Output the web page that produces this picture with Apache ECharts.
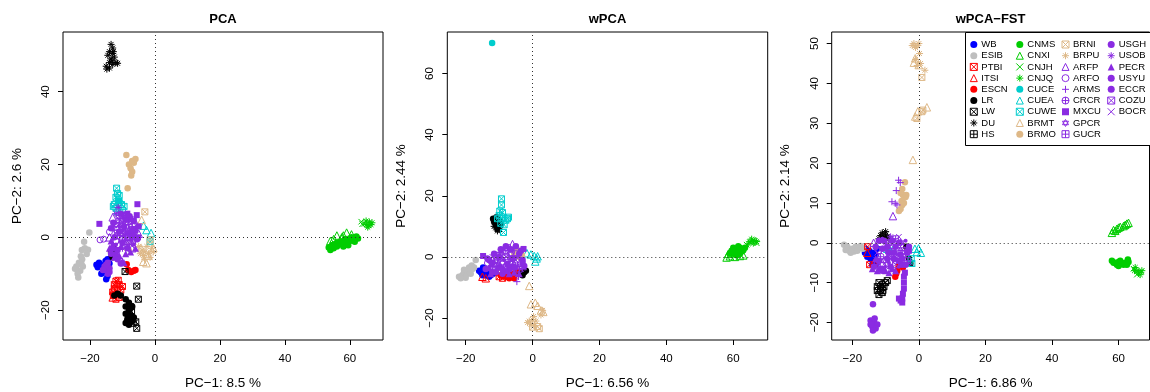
<!DOCTYPE html>
<html><head><meta charset="utf-8">
<script src="https://cdn.jsdelivr.net/npm/echarts@6/dist/echarts.min.js"></script>
<style>html,body{margin:0;padding:0;background:#fff}#c{width:1150px;height:392px}</style>
</head><body><div id="c"></div>
<script>
// ---------- DATA (each group: [PCA points, wPCA points, wPCA-FST points]) ----------
const PANEL_TITLES = ['PCA', 'wPCA', 'wPCA\u2212FST'];
const X_TITLES = ['PC\u22121: 8.5 %', 'PC\u22121: 6.56 %', 'PC\u22121: 6.86 %'];
const Y_TITLES = ['PC\u22122: 2.6 %', 'PC\u22122: 2.44 %', 'PC\u22122: 2.14 %'];
const X_TICKS = [-20, 0, 20, 40, 60];
const Y_TICKS_PCA = [-20, 0, 20, 40];
const Y_TICKS_WPCA = [-20, 0, 20, 40, 60];
const Y_TICKS_FST = [-20, -10, 0, 10, 20, 30, 40, 50];

const GROUPS = ['WB','ESIB','PTBI','ITSI','ESCN','LR','LW','DU','HS',
  'CNMS','CNXI','CNJH','CNJQ','CUCE','CUEA','CUWE','BRMT','BRMO',
  'BRNI','BRPU','ARFP','ARFO','ARMS','CRCR','MXCU','GPCR','GUCR',
  'USGH','USOB','PECR','USYU','ECCR','COZU','BOCR'];

const WB = [
  [[-18,-7.5],[-17.2,-7],[-16.5,-8],[-15.2,-6.5],[-14.6,-6],[-16.5,-10],[-15,-11.5],[-14.6,-10.6],[-17.6,-8.2],[-16,-9.4],[-15.5,-7.5],[-14,-7.2]],
  [[-15.5,-5],[-14.5,-4.5],[-14,-6],[-13,-6.5],[-12.5,-6],[-15,-6],[-13.5,-5.5],[-16,-4.5],[-11.8,-5.5],[-14.8,-3.5]],
  [[-16,-1.5],[-15,-2],[-14,-2.5],[-15.5,-3.5],[-14.5,-4],[-13.5,-4.5],[-13,-5.5],[-12.5,-1.5],[-14,-5.5],[-15,-3],[-16.2,-2.5],[-13,-3]]];
const ESIB = [
  [[-20.2,1.3],[-21.8,-1.2],[-22.5,-3.5],[-20.6,-3.4],[-21,-4.6],[-22.4,-6],[-23.4,-7],[-24.2,-8],[-22.2,-8],[-23,-9.2],[-23.8,-10],[-23.6,-11],[-22.6,-7.4],[-24.6,-8.6],[-21.6,-3],[-22.8,-5.2]],
  [[-22,-6.5],[-21,-6],[-20.5,-5],[-19.5,-5.5],[-19,-4.5],[-18,-4],[-18.5,-5.5],[-20,-6.8],[-21.5,-7],[-17.5,-3.5],[-17,-1],[-19,-3.5],[-20.5,-4.2],[-18.2,-2.8]],
  [[-22.5,-0.5],[-21.5,-1],[-21,-2],[-20,-1.5],[-19,-1],[-18,-1.2],[-17.5,-0.8],[-19.5,-2.2],[-20.5,-2.5],[-18.5,-2],[-22,-1.8],[-16.8,-1.5]]];
const PTBI = [
  [[-12,-12],[-11,-13],[-12.5,-14],[-11.5,-15],[-12.8,-16],[-10.5,-14.5],[-12,-17],[-11,-16.5],[-12.5,-13],[-10,-13.5],[-13,-15],[-11.3,-11.8]],
  [[-9,-7],[-8.5,-6.2],[-10,-6.5]],
  [[-15.4,-1],[-14.8,-5.5]]];
const ITSI = [
  [[-12.8,-14.5],[-11.5,-12.5],[-13,-16.5]],
  [[-15,-6.5],[-14,-7],[-9.8,-5],[-8.5,-5.5],[-6,-5.2]],
  [[-15.5,-2.5],[-13.5,-5]]];
const ESCN = [
  [[-8.7,-7.4],[-8.2,-9],[-6.5,-9.2],[-7.3,-9.5],[-6,-9]],
  [[-9.5,-6],[-8,-6.5],[-6,-6],[-5.5,-7],[-4.5,-5],[-6.5,-5.5],[-3.8,-4.8],[-7,-7]],
  [[-6.1,-5.9],[-4.8,-6.2],[-6.8,-7.7],[-7.1,-8.5],[-6.5,-7]]];
const LR = [
  [[-12.5,-16],[-11.5,-15.5],[-10.5,-16],[-9,-17],[-8,-18],[-9,-19],[-8,-20],[-9,-21],[-7.5,-21.5],[-8.5,-22.5],[-7,-23],[-9,-23.5],[-7,-19],[-6.5,-22],[-8,-24],[-13.5,-4],[-13,-5.5],[-12.8,-3]],
  [[-11,12],[-10.5,11],[-11.5,11.5],[-10,10],[-11,10.5],[-10.5,9.5],[-11.8,12.5],[-10,12],[-9.5,11],[-10.8,13],[-3.5,-5.5],[-2.5,-5],[-3,-6],[-2,-4.5]],
  [[-3.8,-1],[-2.6,-5.2],[-3,-4]]];
const LW = [
  [[-9.2,-9.4],[-5.6,-13.4],[-5.1,-17],[-5.9,-23.2],[-5.6,-25],[-6.7,-23.6],[-7.2,-20.4],[-13.2,-4.5]],
  [[-10.2,9.2],[-9.8,10.5]],
  [[-12,-10],[-11,-10.5],[-12.5,-11],[-11.5,-12],[-12,-13],[-10.5,-11],[-10,-10],[-9.5,-9.5],[-11,-12.5],[-12.5,-12]]];
const DU = [
  [[-13.5,53],[-13,52],[-14,51],[-13,50.5],[-14.5,50],[-12.5,49.5],[-13.5,49],[-14,48],[-12,48],[-15,47],[-13,47.5],[-11.5,47.8],[-14,46.5],[-12.8,51],[-13.2,48.5],[-14.8,46.2]],
  [[-10,9],[-11,9.5],[-10.5,8.5],[-11.5,10]],
  [[-11,2.5],[-10,2],[-10.5,1.5],[-9.5,1.5],[-11.5,1.8],[-10,2.8],[-9,1],[-12,1],[-10.8,0.8]]];
const HS = [
  [[-8,-21],[-7.5,-19]],
  [[-10,11.5]],
  [[-11.5,-11],[-10.8,-12]]];
const CNMS = [
  [[61,-0.5],[62.5,-0.3],[60,-1],[59,-1.5],[58,-1],[57.5,-2],[56,-2.5],[55,-3],[54,-3.5],[56,-1.5],[58.5,-0.5],[60.5,0],[62,0.2],[57,-1.2],[59.5,-2.2],[54.5,-2.2],[53.5,-2.8],[61.5,-1.2],[55.5,-1.8],[58,-2.5]],
  [[59,1],[60,2],[61,2.5],[62,3],[61,1.5],[60.5,0.8],[62.5,1.8],[63,2.2],[59.5,2],[61.5,3.5],[60,3],[62,1],[63.5,3],[60.5,1.5],[61,0.5]],
  [[58,-4.5],[59,-5],[60,-4.8],[61,-5.2],[62,-5],[63,-4.8],[59.5,-5.5],[61.5,-5.5],[60.5,-4.5],[62.5,-5.5],[58.5,-5],[60,-5.8],[62.8,-4.2]]];
const CNXI = [
  [[55,-0.5],[56,0.5],[57.5,0],[59,1.3],[60.5,0.8],[54,-1],[58,0.5]],
  [[58,-0.2],[59,0.2],[60.5,0],[62,0.3],[58.5,1],[63,0.5]],
  [[58,2.5],[58.5,3.2],[59.5,3.5],[60.5,4],[61.5,4.2],[62.5,4.8],[63,5],[59,3],[60,3.8],[62,4.5]]];
const CNJH = [
  [[63.5,4.3],[64.5,3.7],[63.8,3.6]],
  [[64,4],[66,5.5],[65,4.8],[67,4.5]],
  [[64.5,-6.5],[65.5,-8],[66.8,-7.2]]];
const CNJQ = [
  [[65,3.5],[66,4.2],[66.5,3.5],[65.5,2.8],[65,4.5],[66.8,4],[65.8,3.2]],
  [[65,5],[66,4.5],[66.5,5.3],[65.5,5.8],[64.5,4.3],[67,5]],
  [[65.5,-7],[66,-7.5],[66.5,-8],[65,-6.2],[67,-7],[64.8,-7]]];
const CUCE = [
  [[-11,10]],
  [[-12.1,70]],
  [[-9,-2]]];
const CUEA = [
  [[-2.6,2.0],[-1.2,1.2],[-3.5,3.2]],
  [[-1.7,1.2],[0.5,0.3],[1.2,-0.5],[0.8,-1.5],[-0.5,0.8],[1.5,0.2]],
  [[-0.1,-1.4],[0.6,-2.5],[-0.6,-2.3],[-1.2,-1.5],[-9.5,-1.5],[-8.5,-2],[-7.8,-1.8]]];
const CUWE = [
  [[-11.8,13.5],[-11.5,12],[-12,11],[-11.2,10],[-12.5,9],[-11,9.5],[-10.3,9],[-12,8],[-10,7.5],[-11.5,7],[-9.5,8.5],[-12.8,8.5],[-11,11.5],[-1.5,-1.2]],
  [[-9.3,19],[-9.3,17],[-9.8,15],[-10,13.5],[-8.8,13],[-7.2,13],[-8,12],[-9.5,11],[-8.5,10.5],[-8.7,8],[-10.5,12.5],[-9,14.5],[-7.5,12.5]],
  [[-2.1,-5.2],[-2.3,-4]]];
const BRMT = [
  [[-4.1,4.8],[-3.6,-6.7],[-2.6,-7.1],[-0.5,-3],[-2,-5],[-4.2,-3],[-8.2,-2.6]],
  [[-1,-9.5],[-0.5,-15.5],[0.8,-15],[1.5,-16],[2.5,-17.5],[3.2,-18]],
  [[-1.1,46.3],[-1.5,45.2],[0,44.6],[2.4,34],[-1.1,31.7],[-1.8,20.8],[-0.3,33]]];
const BRMO = [
  [[-8.8,22.6],[-8,20],[-7,21],[-6,21.5],[-7.5,19],[-7,18],[-7.3,17],[-8.4,13.5],[-6.5,20.5]],
  [[-5,2.5],[-4,2],[-5.5,1],[-4.5,0.5],[-3.5,1.5],[-4,0],[-5,1.8],[-3.2,0.5]],
  [[-4.2,15.2],[-5,13.5],[-4.8,12],[-5.5,12.5],[-4,11.5],[-5.2,10.5],[-5,9.5],[-5.5,8.5],[-6,8],[-4.5,10],[-3.8,12]]];
const BRNI = [
  [[-3.1,7.0],[-1.5,-0.7]],
  [[2,-23.5],[1.5,-22.8],[0,-23]],
  [[0.9,41.5],[0.9,32.9],[-0.6,31.2],[1.2,33.3]]];
const BRPU = [
  [[-4,-3.5],[-3,-4],[-2,-4.5],[-1,-3],[-3.5,-5],[-2.5,-2.5],[-1.5,-5.5],[-4.5,-4.5],[-0.5,-4],[-5,-2.5],[-3.2,-6]],
  [[-1,-21],[0,-20.5],[-0.5,-22],[0.5,-22.5],[-1.5,-21.5],[1,-21],[0.3,-19.5],[2.5,-19],[3,-17.5]],
  [[-1.5,50],[-0.5,49.5],[0,50],[-1,49],[-2,49.5],[0.2,47.5],[1.8,43.3],[0.5,45],[-1,46],[-0.5,44.5]]];
const ARFP = [
  [[-12,3],[-10,5],[-8,2],[-6,4],[-14,0],[-9,-1],[-7,-3],[-11,-2],[-5,1],[-13,5.5]],
  [[-6,4.2],[-9,1],[-12,-1],[-5,-2],[-3,-3]],
  [[-7.8,6.7],[-13.6,0],[-9,-3],[-5,-1],[-11,-5]]];
const ARFO = [
  [[-16.9,-0.7],[-15.8,-0.5],[-14,1.5],[-12,-1]],
  [[-13.5,-2],[-8,-3],[-11,0.5]],
  [[-12,-2],[-7,-4.5]]];
const ARMS = [
  [[-11,4],[-9,1],[-7,0],[-12.5,2],[-10,-3],[-6,-1],[-8,3.5]],
  [[-4.7,-8.1],[-4.2,-6.4],[-7,0],[-10,-3],[-5.5,2]],
  [[-6.1,15.7],[-5.6,15.1],[-6.8,13.1],[-8.1,10.3],[-7.1,9.9],[-6.6,9.5],[-10,-2],[-4,-3]]];
const CRCR = [
  [[-10,2],[-8.5,0],[-11.5,0.5],[-7,3],[-9.5,-2]],
  [[-8,2],[-10.5,-1],[-6,-2.5],[-12,-4]],
  [[-9,0],[-6,-2],[-11.5,-3.5]]];
const MXCU = [
  [[-5.4,9.1],[-17.1,3.7],[-5.6,6.1],[-6.5,4.5],[-7.5,5],[-5,3],[-6,2],[-8.5,6.5],[-5.2,0]],
  [[-14.8,0.3],[-2.7,2.6],[-7,-4]],
  [[-4.5,-8.5],[-4.5,-10],[-4.5,-11.5],[-4.8,-12.8],[-5,-14],[-5.5,-14.5],[-5,-15],[-6,-14],[-4.2,-7.5],[-3,-2]]];
const GPCR = [
  [[-9,4],[-10.5,1],[-8,-1.5],[-12,3.5]],
  [[-9,-2],[-6.5,1],[-11.5,-2.5]],
  [[-8,-1],[-10.5,-4.5],[-5.5,0]]];
const GUCR = [
  [[-11,6],[-9,2.5],[-7.5,1],[-10,-0.5]],
  [[-7.5,3],[-4,-4],[-10,0.5]],
  [[-7,1],[-12.5,-5.5],[-3.5,-4.5]]];
const USGH = [
  [[-9.5,0.5],[-11,3],[-8,4.5],[-12,-2],[-6.5,-2],[-9.8,2],[-7.2,-0.5]],
  [[-8.5,-1],[-5,0],[-12.5,-3],[-3.5,-1]],
  [[-9,-5],[-6,-6],[-11,1],[-4,0.5]]];
const USOB = [
  [[-11.3,8.2],[-12,6.5],[-10,6],[-9,5.5],[-11,5]],
  [[-9.5,1.5],[-7,-1.5],[-4.5,-3]],
  [[-8.5,1.5],[-6.5,-3],[-10,-6]]];
const PECR = [
  [[-13,-2],[-12,-4],[-14,-3],[-13.5,-1],[-11,-5],[-10,-6.5],[-9.5,-7],[-9,-4.5],[-7.5,-4],[-12.5,-5.5],[-10.5,-2.5],[-6,-3]],
  [[-13,-3.5],[-11,-4.5],[-8,-4.5],[-5.5,-5],[-12.5,-5.5],[-7,-5.5],[-4,-5.5],[-9.5,-3]],
  [[-12,-6.5],[-10,-7],[-8,-6.5],[-13,-4],[-12.5,-7],[-9,-7.5],[-7,-7],[-14,-6.5]]];
const USYU = [
  [[-15.5,-8],[-15,-9],[-14.5,-10],[-14,-8.5],[-15,-7.5],[-14,-9.5]],
  [[-12,-5],[-9,-5.5],[-3,-2]],
  [[-13.8,-15.4],[-14.5,-19.5],[-13.5,-20],[-12.5,-20.5],[-14,-21],[-13,-21.5],[-14.5,-20.5],[-13.3,-19],[-13.8,-22]]];
const ECCR = [
  [[-13,-3],[-12,-5],[-13.5,-4.5],[-11.5,-6],[-10.5,-7.2],[-16,-9],[-14.5,-7],
   [-12.5,0],[-11,1.5],[-9.5,3],[-8,1],[-6.5,0.5],[-10,-1.5],[-8.5,-3],[-11.5,-3.5],[-7,2],[-9,4.8],[-5.5,-0.5],[-12.8,4],[-10.5,6.5],[-7.8,5.8],[-13.5,2.5]],
  [[-13,-1],[-10,-3.5],[-6.5,-3.5],[-4,1],
   [-13.5,-0.5],[-11.5,1],[-9.5,2.5],[-8,3.5],[-6.5,2.5],[-5,3.5],[-3.5,2],[-12,-2],[-10,0],[-7.5,-2.5],[-5.5,-3.5],[-3,-1],[-9,-4],[-11,-5],[-6,-0.5],[-2.5,-3],[-14,-4]],
  [[-12,0.5],[-7.5,-2.5],[-9.5,-1],[-5,-4],[-11,-6.5],
   [-13,-1],[-11,-1.5],[-9,-2.5],[-7,-1],[-5.5,-3],[-3.5,-2.5],[-12,-4.5],[-9.5,-4],[-7.5,-4],[-5,-5.5],[-3,-1],[-10.5,0.5],[-8,0.5],[-6,0],[-13.5,-6],[-11,-7],[-8.5,-6],[-6,-4.5],[-4,-5.5]]];
const COZU = [
  [[-8,0],[-10,3],[-7,-1],[-9,6]],
  [[-8,0],[-11,-2],[-5,-1]],
  [[-7,-5.5],[-8.5,-3.5],[-4.5,-2]]];
const BOCR = [
  [[-8.5,2],[-10.5,4.5],[-7.5,-2],[-6,1.5],[-12,1]],
  [[-7,2],[-9.5,-0.5],[-3.5,-4],[-12,0]],
  [[-6,1.5],[-10,0],[-3,-5],[-12.5,-2.5]]];

const DATA = {WB,ESIB,PTBI,ITSI,ESCN,LR,LW,DU,HS,CNMS,CNXI,CNJH,CNJQ,CUCE,CUEA,CUWE,BRMT,BRMO,
  BRNI,BRPU,ARFP,ARFO,ARMS,CRCR,MXCU,GPCR,GUCR,USGH,USOB,PECR,USYU,ECCR,COZU,BOCR};

// ---------- STYLES ----------
const C = {blue:'#0000FF', grey:'#BEBEBE', red:'#FF0000', black:'#000000', green:'#00CD00',
  cyan:'#00CDCD', tan:'#DEB887', purple:'#8A2BE2'};
const STYLE = {
  WB:[C.blue,'dot'], ESIB:[C.grey,'dot'], PTBI:[C.red,'boxx'], ITSI:[C.red,'otri'], ESCN:[C.red,'dot'],
  LR:[C.black,'dot'], LW:[C.black,'boxx'], DU:[C.black,'ast'], HS:[C.black,'boxplus'],
  CNMS:[C.green,'dot'], CNXI:[C.green,'otri'], CNJH:[C.green,'x'], CNJQ:[C.green,'ast'],
  CUCE:[C.cyan,'dot'], CUEA:[C.cyan,'otri'], CUWE:[C.cyan,'boxx'], BRMT:[C.tan,'otri'], BRMO:[C.tan,'dot'],
  BRNI:[C.tan,'boxx'], BRPU:[C.tan,'ast'], ARFP:[C.purple,'otri'], ARFO:[C.purple,'ocirc'],
  ARMS:[C.purple,'plus'], CRCR:[C.purple,'circplus'], MXCU:[C.purple,'sq'], GPCR:[C.purple,'star6'],
  GUCR:[C.purple,'boxplus'], USGH:[C.purple,'small'], USOB:[C.purple,'ast'], PECR:[C.purple,'ftri'],
  USYU:[C.purple,'dot'], ECCR:[C.purple,'dot'], COZU:[C.purple,'boxx'], BOCR:[C.purple,'x']
};
const SHAPES = {
  dot:{symbol:'circle', size:6.5, fill:true},
  small:{symbol:'circle', size:4, fill:true},
  sq:{symbol:'rect', size:6, fill:true},
  ftri:{symbol:'triangle', size:7, fill:true},
  otri:{symbol:'triangle', size:7.5, fill:false},
  ocirc:{symbol:'circle', size:6, fill:false},
  x:{symbol:'path://M0,0L10,10M10,0L0,10', size:5.5, fill:false},
  plus:{symbol:'path://M5,0L5,10M0,5L10,5', size:7, fill:false},
  ast:{symbol:'path://M5,0L5,10M0,5L10,5M1.5,1.5L8.5,8.5M8.5,1.5L1.5,8.5', size:7, fill:false},
  boxx:{symbol:'path://M0,0L10,0L10,10L0,10ZM0,0L10,10M10,0L0,10', size:6, fill:false},
  boxplus:{symbol:'path://M0,0L10,0L10,10L0,10ZM5,0L5,10M0,5L10,5', size:6, fill:false},
  circplus:{symbol:'path://M0,5A5,5,0,1,1,10,5A5,5,0,1,1,0,5ZM5,0L5,10M0,5L10,5', size:7, fill:false},
  star6:{symbol:'path://M5,0L9.33,7.5L0.67,7.5ZM5,10L0.67,2.5L9.33,2.5Z', size:7.5, fill:false}
};

// ---------- LAYOUT ----------
const FONT = 'Liberation Sans, Arial, Helvetica, sans-serif';
const GRIDS = [
  {left:63, top:32, width:320, height:308},
  {left:447.3, top:32, width:320.4, height:308},
  {left:831.7, top:32, width:317.8, height:308}
];
const XR = [[-28.3,70.2],[-25.5,70.3],[-26.2,69.3]];
const YR = [[-28.2,56.4],[-27.2,73.6],[-24.4,52.9]];
const YT = [Y_TICKS_PCA, Y_TICKS_WPCA, Y_TICKS_FST];
const fmt = v => String(v).replace('-', '\u2212');

const xAxis = [], yAxis = [];
for (let p = 0; p < 3; p++) {
  xAxis.push({type:'value', gridIndex:p, min:XR[p][0], max:XR[p][1], position:'bottom',
    axisLine:{show:false, onZero:false}, splitLine:{show:false},
    axisTick:{show:true, length:5, lineStyle:{color:'#000'}, customValues:X_TICKS},
    axisLabel:{color:'#000', fontSize:11.5, fontFamily:FONT, margin:13, customValues:X_TICKS, formatter:fmt}});
  yAxis.push({type:'value', gridIndex:p, min:YR[p][0], max:YR[p][1], position:'left',
    axisLine:{show:false, onZero:false}, splitLine:{show:false},
    axisTick:{show:true, length:5, lineStyle:{color:'#000'}, customValues:YT[p]},
    axisLabel:{color:'#000', fontSize:11.5, fontFamily:FONT, margin:11, rotate:90, customValues:YT[p], formatter:fmt}});
}

const series = [];
for (let p = 0; p < 3; p++) {
  series.push({type:'scatter', name:'__ref'+p, xAxisIndex:p, yAxisIndex:p, data:[], silent:true,
    markLine:{silent:true, symbol:['none','none'], label:{show:false}, animation:false,
      lineStyle:{color:'#333', width:1, type:[1,3]},
      emphasis:{disabled:true},
      data:[{xAxis:0},{yAxis:0}]}});
}
GROUPS.forEach(g => {
  const [col, shp] = STYLE[g];
  const s = SHAPES[shp];
  for (let p = 0; p < 3; p++) {
    series.push({type:'scatter', name:g, xAxisIndex:p, yAxisIndex:p, data:DATA[g][p],
      symbol:s.symbol, symbolSize:s.size, silent:true,
      emphasis:{disabled:true},
      itemStyle: s.fill ? {color:col, borderWidth:0, opacity:1}
                        : {color:'rgba(0,0,0,0)', borderColor:col, borderWidth:1, opacity:1}});
  }
});

const COLS = [GROUPS.slice(0,9), GROUPS.slice(9,18), GROUPS.slice(18,27), GROUPS.slice(27)];
const LEG_LEFT = [969.8, 1015.8, 1061.5, 1107.2];
const legend = COLS.map((names, i) => ({
  orient:'vertical', left:LEG_LEFT[i], top:39.5, padding:0, itemGap:1.21,
  itemWidth:7, itemHeight:7, selectedMode:false, z:20,
  textStyle:{color:'#000', fontSize:9.5, fontFamily:FONT, lineHeight:7, padding:[0,0,0,-1]},
  data: names.map(n => SHAPES[STYLE[n][1]].fill ? {name:n} : {name:n, itemStyle:{borderWidth:1}})
}));

const graphic = [
  {type:'rect', z:10, shape:{x:965.5, y:32.5, width:200, height:113}, style:{fill:'#fff', stroke:'#000', lineWidth:1}}
];
for (let p = 0; p < 3; p++) {
  const g = GRIDS[p];
  const cx = g.left + g.width / 2, cy = g.top + g.height / 2;
  graphic.push({type:'text', z:10, x:cx, y:19, style:{text:PANEL_TITLES[p], align:'center', verticalAlign:'middle', font:'bold 13px '+FONT, fill:'#000'}});
  graphic.push({type:'text', z:10, x:cx, y:383, style:{text:X_TITLES[p], align:'center', verticalAlign:'middle', font:'13.5px '+FONT, fill:'#000'}});
  graphic.push({type:'text', z:10, x:g.left - 46, y:cy, rotation:Math.PI/2, style:{text:Y_TITLES[p], align:'center', verticalAlign:'middle', font:'13.5px '+FONT, fill:'#000'}});
}

const chart = echarts.init(document.getElementById('c'), null, {renderer:'canvas'});
chart.setOption({
  animation:false,
  backgroundColor:'#fff',
  grid: GRIDS.map(g => Object.assign({show:true, borderColor:'#000', borderWidth:1, backgroundColor:'transparent'}, g)),
  xAxis, yAxis, series, legend, graphic
});
</script></body></html>
